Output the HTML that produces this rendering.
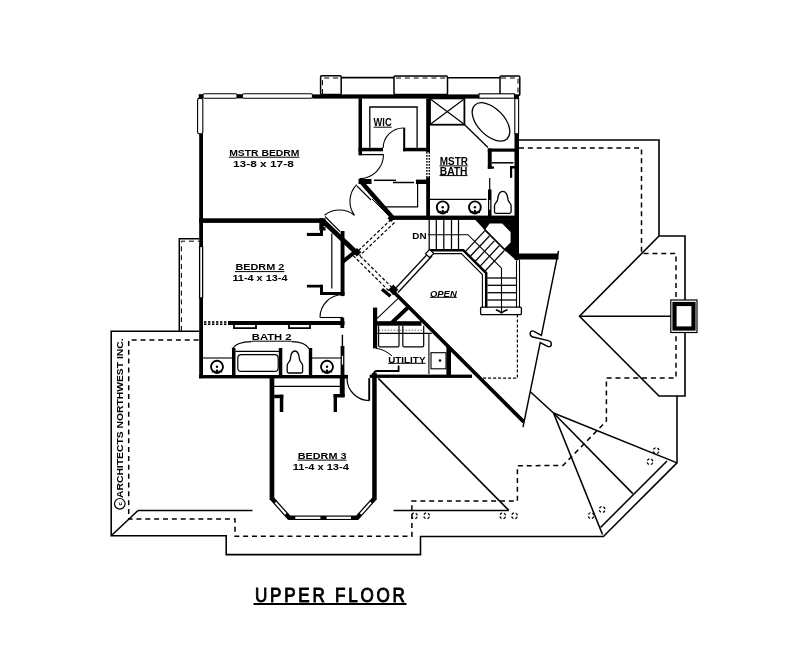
<!DOCTYPE html>
<html><head><meta charset="utf-8"><style>
html,body{margin:0;padding:0;background:#fff;width:800px;height:652px;overflow:hidden}
svg{display:block;will-change:transform}
text{font-family:"Liberation Sans",sans-serif;fill:#000}
</style></head><body>
<svg width="800" height="652" viewBox="0 0 800 652">
<rect width="800" height="652" fill="#fff"/>
<rect x="320.6" y="75.8" width="20.6" height="18.7" fill="none" stroke="#000" stroke-width="1.5" rx="1.2"/>
<polyline points="322.5,94 322.5,78 339.5,78" fill="none" stroke="#000" stroke-width="1.0" stroke-linejoin="miter" stroke-dasharray="5 3.85"/>
<line x1="341.2" y1="77.6" x2="394" y2="77.6" stroke="#000" stroke-width="1.55" />
<rect x="394" y="76" width="53.5" height="18.5" fill="none" stroke="#000" stroke-width="1.5" rx="1.2"/>
<polyline points="396,78 446,78" fill="none" stroke="#000" stroke-width="1.0" stroke-linejoin="miter" stroke-dasharray="5 3.85"/>
<line x1="447.5" y1="77.8" x2="500" y2="77.8" stroke="#000" stroke-width="1.55" />
<rect x="500" y="76" width="19.8" height="19.5" fill="none" stroke="#000" stroke-width="1.5" rx="1.2"/>
<polyline points="501,78 518,78 518,95" fill="none" stroke="#000" stroke-width="1.0" stroke-linejoin="miter" stroke-dasharray="5 3.85"/>
<polyline points="519,140 659,140 659,236 685,236 685,396 659,396 579.5,316.3 659,236" fill="none" stroke="#000" stroke-width="1.6" stroke-linejoin="miter" />
<line x1="579.5" y1="316.3" x2="671" y2="316.3" stroke="#000" stroke-width="1.55" />
<polyline points="519,148 641.5,148 641.5,253.5 676,253.5 676,378 606.4,378 606.4,421 563,465.4 517.4,465.8 517.4,501 411.9,501 411.9,536.2 235,536.2 235,519 128.7,519 128.7,340 199,340" fill="none" stroke="#000" stroke-width="1.5" stroke-linejoin="miter" stroke-dasharray="5 3.85"/>
<rect x="670.8" y="300" width="26.2" height="32.5" fill="#fff" stroke="#000" stroke-width="1.2" />
<rect x="674.5" y="304" width="19.0" height="24.5" fill="#fff" stroke="#000" stroke-width="4.2" />
<polyline points="677,396 677,462.9 603.4,536.5 420.5,536.5 420.5,554.6 226.2,554.6 226.2,535.8 111.2,535.8 111.2,331.2 199,331.2" fill="none" stroke="#000" stroke-width="1.55" stroke-linejoin="miter" />
<line x1="667" y1="461" x2="600.5" y2="527.5" stroke="#000" stroke-width="1.55" />
<line x1="111.2" y1="535.8" x2="138" y2="510.5" stroke="#000" stroke-width="1.55" />
<line x1="138" y1="510.5" x2="252.5" y2="510.5" stroke="#000" stroke-width="1.55" />
<line x1="393.5" y1="510.4" x2="508.8" y2="510.4" stroke="#000" stroke-width="1.55" />
<line x1="553.5" y1="413" x2="677" y2="462.9" stroke="#000" stroke-width="1.55" />
<line x1="553.5" y1="413" x2="632.8" y2="493.6" stroke="#000" stroke-width="1.55" />
<line x1="553.5" y1="413" x2="602.5" y2="534.5" stroke="#000" stroke-width="1.55" />
<line x1="530.3" y1="391.7" x2="553.5" y2="413" stroke="#000" stroke-width="1.55" />
<polyline points="558.5,250.9 541.4,335.5 534,331.3" fill="none" stroke="#000" stroke-width="1.45" stroke-linejoin="miter" />
<path d="M534,331.3 C530,329.2 528.5,335.5 533,337 L548.3,340.6 C552.8,341.8 552,348.2 547.6,346.4 L540.2,342.6 L523,427.2" fill="none" stroke="#000" stroke-width="1.45" />
<line x1="378.3" y1="378.4" x2="508.8" y2="510.4" stroke="#000" stroke-width="1.55" />
<circle cx="414.4" cy="515.8" r="2.9" fill="none" stroke="#000" stroke-width="1.25" stroke-dasharray="2.6 1.95" stroke-dashoffset="-1.0"/>
<circle cx="426.6" cy="515.8" r="2.9" fill="none" stroke="#000" stroke-width="1.25" stroke-dasharray="2.6 1.95" stroke-dashoffset="-1.0"/>
<circle cx="502.7" cy="515.8" r="2.9" fill="none" stroke="#000" stroke-width="1.25" stroke-dasharray="2.6 1.95" stroke-dashoffset="-1.0"/>
<circle cx="514.5" cy="515.8" r="2.9" fill="none" stroke="#000" stroke-width="1.25" stroke-dasharray="2.6 1.95" stroke-dashoffset="-1.0"/>
<circle cx="656.1" cy="450.7" r="2.9" fill="none" stroke="#000" stroke-width="1.25" stroke-dasharray="2.6 1.95" stroke-dashoffset="-1.0"/>
<circle cx="650" cy="461.7" r="2.9" fill="none" stroke="#000" stroke-width="1.25" stroke-dasharray="2.6 1.95" stroke-dashoffset="-1.0"/>
<circle cx="602.1" cy="509.5" r="2.9" fill="none" stroke="#000" stroke-width="1.25" stroke-dasharray="2.6 1.95" stroke-dashoffset="-1.0"/>
<circle cx="591.1" cy="515.6" r="2.9" fill="none" stroke="#000" stroke-width="1.25" stroke-dasharray="2.6 1.95" stroke-dashoffset="-1.0"/>
<polyline points="199,238.8 179.3,238.8 179.3,331.2" fill="none" stroke="#000" stroke-width="1.5" stroke-linejoin="miter" />
<polyline points="181.4,331 181.4,241.2 199,241.2" fill="none" stroke="#000" stroke-width="1.0" stroke-linejoin="miter" stroke-dasharray="5 3.85"/>
<rect x="198.7" y="94.2" width="4.3" height="4.2" fill="#000"/>
<rect x="203" y="93.8" width="34" height="4.4" fill="#fff" stroke="#000" stroke-width="1.1" rx="1.5"/>
<rect x="237" y="94.2" width="5.4" height="4.2" fill="#000"/>
<rect x="242.4" y="93.8" width="70.1" height="4.4" fill="#fff" stroke="#000" stroke-width="1.1" rx="1.5"/>
<rect x="312.5" y="94.4" width="166.5" height="4.2" fill="#000"/>
<rect x="479" y="93.8" width="35.5" height="4.4" fill="#fff" stroke="#000" stroke-width="1.1" />
<rect x="514.5" y="94.4" width="4.5" height="4.2" fill="#000"/>
<rect x="197.6" y="98.4" width="5.2" height="35.4" fill="#fff" stroke="#000" stroke-width="1.1" rx="1.5"/>
<rect x="199.2" y="133.8" width="3.8" height="112.7" fill="#000"/>
<rect x="199.6" y="246.5" width="3.0" height="51.4" fill="#fff" stroke="#000" stroke-width="1.3" />
<rect x="199.2" y="297.9" width="3.8" height="80.3" fill="#000"/>
<rect x="514.8" y="98.6" width="3.8" height="35.2" fill="#fff" stroke="#000" stroke-width="1.1" />
<rect x="514.5" y="133.8" width="4.5" height="125.7" fill="#000"/>
<rect x="199" y="218.3" width="124" height="4.6" fill="#000"/>
<rect x="358.5" y="98.4" width="3.5" height="57.0" fill="#000"/>
<rect x="358.5" y="147.8" width="24.5" height="3.5" fill="#000"/>
<rect x="403.2" y="147.8" width="26.2" height="3.5" fill="#000"/>
<rect x="403.2" y="127.6" width="2.0" height="23.7" fill="#000"/>
<polyline points="369.8,147.8 369.8,107 417.1,107 417.1,147.8" fill="none" stroke="#000" stroke-width="1.3" stroke-linejoin="miter" />
<path d="M403.2,128 A20,20 0 0 0 383.2,148" fill="none" stroke="#000" stroke-width="1.1" />
<line x1="362" y1="154.6" x2="383.5" y2="154.6" stroke="#000" stroke-width="1.3" />
<path d="M383.5,154.6 A24,24 0 0 1 359.5,178.6" fill="none" stroke="#000" stroke-width="1.1" />
<rect x="426.2" y="98.4" width="3.8" height="53.6" fill="#000"/>
<rect x="426.2" y="152" width="1.4" height="1.7" fill="#000"/>
<rect x="428.6" y="152" width="1.4" height="1.7" fill="#000"/>
<rect x="426.2" y="155" width="1.4" height="1.7" fill="#000"/>
<rect x="428.6" y="155" width="1.4" height="1.7" fill="#000"/>
<rect x="426.2" y="158" width="1.4" height="1.7" fill="#000"/>
<rect x="428.6" y="158" width="1.4" height="1.7" fill="#000"/>
<rect x="426.2" y="161" width="1.4" height="1.7" fill="#000"/>
<rect x="428.6" y="161" width="1.4" height="1.7" fill="#000"/>
<rect x="426.2" y="164" width="1.4" height="1.7" fill="#000"/>
<rect x="428.6" y="164" width="1.4" height="1.7" fill="#000"/>
<rect x="426.2" y="167" width="1.4" height="1.7" fill="#000"/>
<rect x="428.6" y="167" width="1.4" height="1.7" fill="#000"/>
<rect x="426.2" y="170" width="1.4" height="1.7" fill="#000"/>
<rect x="428.6" y="170" width="1.4" height="1.7" fill="#000"/>
<rect x="426.2" y="173" width="1.4" height="1.7" fill="#000"/>
<rect x="428.6" y="173" width="1.4" height="1.7" fill="#000"/>
<rect x="426.2" y="176" width="1.4" height="1.7" fill="#000"/>
<rect x="428.6" y="176" width="1.4" height="1.7" fill="#000"/>
<rect x="426.2" y="179" width="1.4" height="1.7" fill="#000"/>
<rect x="428.6" y="179" width="1.4" height="1.7" fill="#000"/>
<rect x="358.5" y="179" width="13.0" height="5" fill="#000"/>
<rect x="415.9" y="179.6" width="13.5" height="4.4" fill="#000"/>
<line x1="374" y1="180.3" x2="396" y2="180.3" stroke="#000" stroke-width="1.5" />
<line x1="393" y1="182.5" x2="414" y2="182.5" stroke="#000" stroke-width="1.5" />
<rect x="426.2" y="177.3" width="3.8" height="42.4" fill="#000"/>
<polyline points="383,206.8 417.6,206.8 417.6,184" fill="none" stroke="#000" stroke-width="1.2" stroke-linejoin="miter" />
<line x1="372" y1="199" x2="390" y2="217" stroke="#000" stroke-width="1.0" />
<line x1="361" y1="181.5" x2="392.5" y2="217.5" stroke="#000" stroke-width="4.4" stroke-linecap="butt"/>
<rect x="392" y="215.6" width="126.3" height="4.3" fill="#000"/>
<path d="M356.7,184.6 A24,24 0 0 0 354.4,215.2" fill="none" stroke="#000" stroke-width="1.1" />
<path d="M324.5,215.2 A24,24 0 0 1 354.4,215.2" fill="none" stroke="#000" stroke-width="1.1" />
<line x1="357" y1="186" x2="371" y2="200" stroke="#000" stroke-width="1.1" />
<line x1="325" y1="216.5" x2="340" y2="231.5" stroke="#000" stroke-width="1.1" />
<line x1="322.5" y1="220.5" x2="356.7" y2="253" stroke="#000" stroke-width="5" stroke-linecap="butt"/>
<polygon points="357,248.0 361.3,252.3 357,256.6 352.7,252.3" fill="#000" />
<polygon points="391.2,214.39999999999998 395.0,218.2 391.2,222.0 387.4,218.2" fill="#000" />
<polyline points="391,219.5 356.5,252.4" fill="none" stroke="#000" stroke-width="1.2" stroke-linejoin="miter" stroke-dasharray="3.2 2"/>
<polyline points="394.5,222.5 359.5,255.8" fill="none" stroke="#000" stroke-width="1.2" stroke-linejoin="miter" stroke-dasharray="3.2 2"/>
<polyline points="356.5,252.4 392,287.5" fill="none" stroke="#000" stroke-width="1.2" stroke-linejoin="miter" stroke-dasharray="3.2 2"/>
<polyline points="353.2,255.6 388.8,290.8" fill="none" stroke="#000" stroke-width="1.2" stroke-linejoin="miter" stroke-dasharray="3.2 2"/>
<rect x="320" y="222" width="3" height="14" fill="#000"/>
<rect x="306.9" y="232.9" width="16.1" height="3.1" fill="#000"/>
<rect x="306.9" y="284.8" width="16.1" height="2.7" fill="#000"/>
<rect x="320" y="284.8" width="3" height="9.7" fill="#000"/>
<rect x="320" y="292" width="24.5" height="3" fill="#000"/>
<rect x="340.6" y="231" width="3.9" height="65.1" fill="#000"/>
<line x1="331.8" y1="233.5" x2="331.8" y2="288.5" stroke="#000" stroke-width="1.2" />
<rect x="319.3" y="218.3" width="6.2" height="12.2" fill="#000"/>
<circle cx="324.2" cy="226.6" r="0.7" fill="#fff"/>
<line x1="342.5" y1="262" x2="356" y2="251" stroke="#000" stroke-width="4" stroke-linecap="butt"/>
<rect x="204" y="321.2" width="2.4" height="1.6" fill="#000"/>
<rect x="204" y="323.4" width="2.4" height="1.6" fill="#000"/>
<rect x="208" y="321.2" width="2.4" height="1.6" fill="#000"/>
<rect x="208" y="323.4" width="2.4" height="1.6" fill="#000"/>
<rect x="212" y="321.2" width="2.4" height="1.6" fill="#000"/>
<rect x="212" y="323.4" width="2.4" height="1.6" fill="#000"/>
<rect x="216" y="321.2" width="2.4" height="1.6" fill="#000"/>
<rect x="216" y="323.4" width="2.4" height="1.6" fill="#000"/>
<rect x="220" y="321.2" width="2.4" height="1.6" fill="#000"/>
<rect x="220" y="323.4" width="2.4" height="1.6" fill="#000"/>
<rect x="224" y="321.2" width="2.4" height="1.6" fill="#000"/>
<rect x="224" y="323.4" width="2.4" height="1.6" fill="#000"/>
<rect x="228" y="321" width="116.5" height="4" fill="#000"/>
<path d="M320,317.5 A23,23 0 0 1 343,294.5" fill="none" stroke="#000" stroke-width="1.1" />
<line x1="320" y1="317.5" x2="343" y2="317.5" stroke="#000" stroke-width="1.1" />
<rect x="199" y="375" width="149" height="3.4" fill="#000"/>
<polyline points="234,325 234,328.2 256,328.2 256,325" fill="none" stroke="#000" stroke-width="1.8" stroke-linejoin="miter" />
<polyline points="289,325 289,328.2 310,328.2 310,325" fill="none" stroke="#000" stroke-width="1.8" stroke-linejoin="miter" />
<path d="M232,349 Q236.5,341.6 251.5,341.6" fill="none" stroke="#000" stroke-width="1.1" />
<path d="M309.5,349 Q305,341.6 291.6,341.6" fill="none" stroke="#000" stroke-width="1.1" />
<rect x="232" y="348" width="3.5" height="30" fill="#000"/>
<rect x="278.8" y="348" width="3.5" height="30" fill="#000"/>
<rect x="308.8" y="348" width="3.4" height="30" fill="#000"/>
<line x1="235.5" y1="351.4" x2="279" y2="351.4" stroke="#000" stroke-width="1.3" />
<rect x="237.8" y="354.7" width="40.4" height="16.7" fill="none" stroke="#000" stroke-width="1.2" rx="3.5"/>
<path d="M288.7,373 L301.1,373 Q302.6,373 302.6,371.5 L302.6,365.52 C302.6,362.44 300.0,362.44 299.5,359.36 C299.0,353.64 297.5,351 294.9,351 C292.29999999999995,351 290.8,353.64 290.3,359.36 C289.8,362.44 287.2,362.44 287.2,365.52 L287.2,371.5 Q287.2,373 288.7,373 Z" fill="none" stroke="#000" stroke-width="1.3" />
<line x1="203" y1="358" x2="232" y2="358" stroke="#000" stroke-width="1.1" />
<line x1="312" y1="358" x2="341" y2="358" stroke="#000" stroke-width="1.1" />
<circle cx="217" cy="366.8" r="6.0" fill="none" stroke="#000" stroke-width="1.9"/>
<circle cx="217" cy="366.8" r="1.2" fill="#000"/>
<polygon points="216.2,369.40000000000003 217.8,369.40000000000003 219.0,373.8 215.0,373.8" fill="#000" />
<line x1="211.8" y1="372.0" x2="215.2" y2="371.0" stroke="#000" stroke-width="1.1" />
<line x1="222.2" y1="372.0" x2="218.8" y2="371.0" stroke="#000" stroke-width="1.1" />
<circle cx="327" cy="366.8" r="6.0" fill="none" stroke="#000" stroke-width="1.9"/>
<circle cx="327" cy="366.8" r="1.2" fill="#000"/>
<polygon points="326.2,369.40000000000003 327.8,369.40000000000003 329.0,373.8 325.0,373.8" fill="#000" />
<line x1="321.8" y1="372.0" x2="325.2" y2="371.0" stroke="#000" stroke-width="1.1" />
<line x1="332.2" y1="372.0" x2="328.8" y2="371.0" stroke="#000" stroke-width="1.1" />
<rect x="340.4" y="317.7" width="3.8" height="10.3" fill="#000"/>
<line x1="342.4" y1="334.7" x2="342.4" y2="346" stroke="#000" stroke-width="1.4" />
<rect x="340.6" y="346" width="3.8" height="32.4" fill="#000"/>
<rect x="341.9" y="355.8" width="1.2" height="8.8" fill="#fff"/>
<rect x="344" y="374.8" width="3.5" height="3.6" fill="#000"/>
<line x1="274.2" y1="386.3" x2="341" y2="386.3" stroke="#000" stroke-width="1.2" />
<rect x="339.8" y="378" width="4.9" height="18" fill="#000"/>
<rect x="333.6" y="394" width="11.1" height="3.5" fill="#000"/>
<rect x="333.6" y="394" width="3.4" height="18" fill="#000"/>
<rect x="274.2" y="394.7" width="9.1" height="3.5" fill="#000"/>
<rect x="279.8" y="394.7" width="3.5" height="17.3" fill="#000"/>
<path d="M347,378.2 A22.4,22.4 0 0 0 369.4,400.6" fill="none" stroke="#000" stroke-width="1.2" />
<line x1="369.2" y1="378.2" x2="369.2" y2="400.6" stroke="#000" stroke-width="1.9" />
<rect x="269.6" y="378" width="4.7" height="122" fill="#000"/>
<rect x="372.2" y="373" width="4.5" height="127" fill="#000"/>
<polyline points="271.95,498.5 289.2,517.8 357.2,517.8 374.45,498.5" fill="none" stroke="#000" stroke-width="4.6" stroke-linejoin="miter" />
<line x1="275.4" y1="502.4" x2="285.75" y2="513.94" stroke="#fff" stroke-width="2.1"  stroke-linecap="butt"/>
<rect x="295.3" y="516.7" width="25.1" height="2.2" fill="#fff"/>
<rect x="326.6" y="516.7" width="24.4" height="2.2" fill="#fff"/>
<line x1="360.65" y1="513.94" x2="371.0" y2="502.4" stroke="#fff" stroke-width="2.1"  stroke-linecap="butt"/>
<rect x="430" y="98.4" width="34.4" height="26.3" fill="none" stroke="#000" stroke-width="1.8" />
<line x1="431" y1="99.5" x2="463.5" y2="123.8" stroke="#000" stroke-width="1.2" />
<line x1="463.5" y1="99.5" x2="431" y2="123.8" stroke="#000" stroke-width="1.2" />
<line x1="464.4" y1="124.5" x2="488" y2="147.5" stroke="#000" stroke-width="1.3" />
<ellipse cx="491" cy="121.9" rx="23.3" ry="13.3" transform="rotate(46 491 121.9)" fill="none" stroke="#000" stroke-width="1.3"/>
<rect x="487.8" y="148.5" width="31.2" height="3.2" fill="#000"/>
<rect x="487.8" y="148.5" width="3.9" height="20.2" fill="#000"/>
<rect x="487.8" y="166.5" width="6.2" height="2.2" fill="#000"/>
<rect x="510" y="166" width="2.2" height="11.8" fill="#000"/>
<rect x="510" y="166" width="5.2" height="2.5" fill="#000"/>
<line x1="491.7" y1="162.8" x2="513.5" y2="162.8" stroke="#000" stroke-width="1.5" />
<rect x="488" y="189.5" width="3.5" height="30.2" fill="#000"/>
<line x1="489.7" y1="178" x2="489.7" y2="190" stroke="#000" stroke-width="1.2" />
<rect x="489.2" y="200" width="1.0" height="9.7" fill="#fff"/>
<path d="M496.0,213.3 L509.6,213.3 Q511.1,213.3 511.1,211.8 L511.1,205.82000000000002 C511.1,202.74 508.5,202.74 508.0,199.66000000000003 C507.5,193.94 505.40000000000003,191.3 502.8,191.3 C500.2,191.3 498.1,193.94 497.6,199.66000000000003 C497.1,202.74 494.5,202.74 494.5,205.82000000000002 L494.5,211.8 Q494.5,213.3 496.0,213.3 Z" fill="none" stroke="#000" stroke-width="1.3" />
<line x1="430" y1="199.3" x2="486.6" y2="199.3" stroke="#000" stroke-width="1.2" />
<circle cx="442.7" cy="207.3" r="5.9" fill="none" stroke="#000" stroke-width="1.9"/>
<circle cx="442.7" cy="207.3" r="1.2" fill="#000"/>
<polygon points="441.9,209.9 443.5,209.9 444.7,214.20000000000002 440.7,214.20000000000002" fill="#000" />
<line x1="437.6" y1="212.4" x2="440.9" y2="211.4" stroke="#000" stroke-width="1.1" />
<line x1="447.79999999999995" y1="212.4" x2="444.5" y2="211.4" stroke="#000" stroke-width="1.1" />
<circle cx="474.9" cy="207.3" r="5.9" fill="none" stroke="#000" stroke-width="1.9"/>
<circle cx="474.9" cy="207.3" r="1.2" fill="#000"/>
<polygon points="474.09999999999997,209.9 475.7,209.9 476.9,214.20000000000002 472.9,214.20000000000002" fill="#000" />
<line x1="469.8" y1="212.4" x2="473.09999999999997" y2="211.4" stroke="#000" stroke-width="1.1" />
<line x1="479.99999999999994" y1="212.4" x2="476.7" y2="211.4" stroke="#000" stroke-width="1.1" />
<polygon points="474.9,219.5 518.3,219.5 518.3,253.5 558.5,253.5 558.5,259.4 518.3,259.4 516.8,261.1 505.5,250.8 484,229.3" fill="#000" />
<polygon points="485.5,229.2 489.6,223.6 502.2,223.6 510.6,232 510.6,242.4 504.6,248.6" fill="#fff" />
<line x1="484" y1="229.3" x2="505.8" y2="251.1" stroke="#000" stroke-width="1.3" />
<line x1="429.2" y1="219.7" x2="429.2" y2="250" stroke="#000" stroke-width="1.25" />
<line x1="436.3" y1="219.7" x2="436.3" y2="250" stroke="#000" stroke-width="1.25" />
<line x1="443.8" y1="219.7" x2="443.8" y2="250" stroke="#000" stroke-width="1.25" />
<line x1="451.5" y1="219.7" x2="451.5" y2="250" stroke="#000" stroke-width="1.25" />
<line x1="458.5" y1="219.7" x2="458.5" y2="250" stroke="#000" stroke-width="1.25" />
<polyline points="428.2,234.7 468,234.7 501.5,268.2 501.5,313" fill="none" stroke="#000" stroke-width="1.1" stroke-linejoin="miter" />
<path d="M495.8,309.8 Q499,310.8 501.5,313 Q504,310.8 507.6,309.8" fill="none" stroke="#000" stroke-width="1.5" />
<polyline points="429,250.2 463.3,250.2 486.2,273.1 486.2,307.5" fill="none" stroke="#000" stroke-width="2.5" stroke-linejoin="miter" />
<polyline points="433,253.6 461.4,253.6 482.4,274.6 482.4,307.5" fill="none" stroke="#000" stroke-width="1.1" stroke-linejoin="miter" />
<line x1="465.5" y1="251.4" x2="484.5" y2="231.1" stroke="#000" stroke-width="1.25" />
<line x1="470.4" y1="256.3" x2="489.4" y2="236.0" stroke="#000" stroke-width="1.25" />
<line x1="475.3" y1="261.2" x2="494.3" y2="240.89999999999998" stroke="#000" stroke-width="1.25" />
<line x1="480.2" y1="266.1" x2="499.2" y2="245.8" stroke="#000" stroke-width="1.25" />
<line x1="485.1" y1="271.0" x2="504.1" y2="250.7" stroke="#000" stroke-width="1.25" />
<line x1="487.4" y1="278" x2="516.7" y2="278" stroke="#000" stroke-width="1.3" />
<line x1="487.4" y1="285.3" x2="516.7" y2="285.3" stroke="#000" stroke-width="1.3" />
<line x1="487.4" y1="292.7" x2="516.7" y2="292.7" stroke="#000" stroke-width="1.3" />
<line x1="487.4" y1="300" x2="516.7" y2="300" stroke="#000" stroke-width="1.3" />
<line x1="516.5" y1="261" x2="516.5" y2="307.5" stroke="#000" stroke-width="1.1" />
<line x1="519.5" y1="259.4" x2="519.5" y2="307.5" stroke="#000" stroke-width="1.1" />
<rect x="480.6" y="307.2" width="40.8" height="7.4" fill="none" stroke="#000" stroke-width="1.3" rx="1"/>
<line x1="394.5" y1="289.5" x2="428.5" y2="253" stroke="#000" stroke-width="1.3" />
<line x1="398" y1="292.5" x2="432" y2="256" stroke="#000" stroke-width="1.3" />
<rect x="426.8" y="250.5" width="5.7" height="6.0" fill="#fff" stroke="#000" stroke-width="1.2" transform="rotate(45 429.6 253.5)"/>
<polyline points="517.4,314.5 517.4,378.2 482,378.2" fill="none" stroke="#000" stroke-width="1.2" stroke-linejoin="miter" stroke-dasharray="3 2"/>
<line x1="391.5" y1="289.7" x2="523.8" y2="421.9" stroke="#000" stroke-width="3.7" stroke-linecap="butt"/>
<line x1="382" y1="289.3" x2="390.5" y2="296.3" stroke="#000" stroke-width="3.4" stroke-linecap="butt"/>
<polygon points="393.3,284.6 398.2,289.8 393.3,295.3 388.4,289.8" fill="#000" />
<rect x="376" y="321.2" width="45.5" height="4.5" fill="#000"/>
<line x1="391.5" y1="323" x2="409.5" y2="306" stroke="#000" stroke-width="3.8" stroke-linecap="butt"/>
<line x1="377.2" y1="318.3" x2="398.7" y2="297.9" stroke="#000" stroke-width="1.1" />
<rect x="373" y="307.6" width="4.2" height="40.8" fill="#000"/>
<path d="M378.6,325.7 L378.6,345.5 Q378.6,346.8 380,346.8 L397.7,346.8 Q399,346.8 399,345.5 L399,325.7" fill="none" stroke="#000" stroke-width="1.2" />
<path d="M402.8,325.7 L402.8,345.5 Q402.8,346.8 404.2,346.8 L422.4,346.8 Q423.7,346.8 423.7,345.5 L423.7,325.7" fill="none" stroke="#000" stroke-width="1.2" />
<line x1="377.3" y1="333.4" x2="431.7" y2="333.4" stroke="#000" stroke-width="1.3" />
<line x1="378.6" y1="330.2" x2="424" y2="330.2" stroke="#000" stroke-width="0.6" stroke-dasharray="1.5 1.5"/>
<line x1="428.9" y1="333.4" x2="428.9" y2="374" stroke="#000" stroke-width="1.1" />
<rect x="431" y="352.7" width="15" height="16.1" fill="none" stroke="#000" stroke-width="1.1" />
<circle cx="440" cy="360.5" r="1.3" fill="#000"/>
<rect x="446.4" y="347" width="4.6" height="28.2" fill="#000"/>
<rect x="369.7" y="374.6" width="102.3" height="3.3" fill="#000"/>
<path d="M376,348.4 Q384,349 392,355.9" fill="none" stroke="#000" stroke-width="1.0" />
<path d="M373.8,374.5 Q373.8,371 377.3,371 L398.6,371 L398.6,365.6" fill="none" stroke="#000" stroke-width="1.8" />
<rect x="371.9" y="373" width="4.3" height="5" fill="#000"/>
<text x="229.2" y="156" font-size="9.4" font-weight="bold" textLength="70.3" lengthAdjust="spacingAndGlyphs" >MSTR BEDRM</text>
<line x1="229" y1="157.2" x2="299.5" y2="157.2" stroke="#000" stroke-width="1.0" />
<text x="233" y="166.8" font-size="9.4" font-weight="bold" textLength="60.8" lengthAdjust="spacingAndGlyphs" >13-8 x 17-8</text>
<text x="373.6" y="126.2" font-size="10" font-weight="bold" textLength="18.0" lengthAdjust="spacingAndGlyphs" >WIC</text>
<line x1="373.6" y1="127.2" x2="391.6" y2="127.2" stroke="#000" stroke-width="1.0" />
<text x="439.8" y="165" font-size="10" font-weight="bold" textLength="28.2" lengthAdjust="spacingAndGlyphs" >MSTR</text>
<line x1="439.5" y1="165.9" x2="467.5" y2="165.9" stroke="#000" stroke-width="1.0" />
<text x="439.8" y="175.2" font-size="10" font-weight="bold" textLength="27.7" lengthAdjust="spacingAndGlyphs" >BATH</text>
<line x1="439.5" y1="175.6" x2="467.5" y2="175.6" stroke="#000" stroke-width="1.0" />
<text x="235.4" y="270.2" font-size="8.9" font-weight="bold" textLength="49.0" lengthAdjust="spacingAndGlyphs" >BEDRM 2</text>
<line x1="235" y1="271.6" x2="284.4" y2="271.6" stroke="#000" stroke-width="1.0" />
<text x="232.4" y="281.2" font-size="8.9" font-weight="bold" textLength="55.1" lengthAdjust="spacingAndGlyphs" >11-4 x 13-4</text>
<text x="251.8" y="340.4" font-size="9.4" font-weight="bold" textLength="39.8" lengthAdjust="spacingAndGlyphs" >BATH 2</text>
<line x1="251.5" y1="341.2" x2="291.6" y2="341.2" stroke="#000" stroke-width="1.0" />
<text x="297.7" y="459.2" font-size="8.9" font-weight="bold" textLength="48.8" lengthAdjust="spacingAndGlyphs" >BEDRM 3</text>
<line x1="297.5" y1="460.1" x2="346.5" y2="460.1" stroke="#000" stroke-width="1.0" />
<text x="292.8" y="470.2" font-size="8.9" font-weight="bold" textLength="56.1" lengthAdjust="spacingAndGlyphs" >11-4 x 13-4</text>
<text x="429.9" y="296.5" font-size="8.5" font-weight="bold" textLength="26.9" lengthAdjust="spacingAndGlyphs" font-style="italic">OPEN</text>
<line x1="429.9" y1="297.3" x2="456.8" y2="297.3" stroke="#000" stroke-width="1.0" />
<text x="388.2" y="362.5" font-size="9.5" font-weight="bold" textLength="37.3" lengthAdjust="spacingAndGlyphs" >UTILITY</text>
<line x1="388.2" y1="363.3" x2="425.5" y2="363.3" stroke="#000" stroke-width="1.0" />
<text x="412.3" y="239.2" font-size="9.2" font-weight="bold" textLength="14.2" lengthAdjust="spacingAndGlyphs" >DN</text>
<text transform="translate(255,601.6) scale(0.88,1)" font-size="19.4" font-weight="normal" stroke="#000" stroke-width="0.9" textLength="170.4" lengthAdjust="spacing">UPPER FLOOR</text>
<line x1="253.5" y1="604" x2="406.5" y2="604" stroke="#000" stroke-width="2" />
<text transform="translate(123.2,498) rotate(-90)" font-size="9.4" font-weight="bold" textLength="159.6" lengthAdjust="spacingAndGlyphs">ARCHITECTS NORTHWEST INC.</text>
<circle cx="119.8" cy="503.8" r="5.3" fill="none" stroke="#000" stroke-width="1.2"/>
<text transform="translate(121.6,503.8) rotate(-90)" font-size="6" text-anchor="middle" font-weight="bold">c</text>
</svg></body></html>
